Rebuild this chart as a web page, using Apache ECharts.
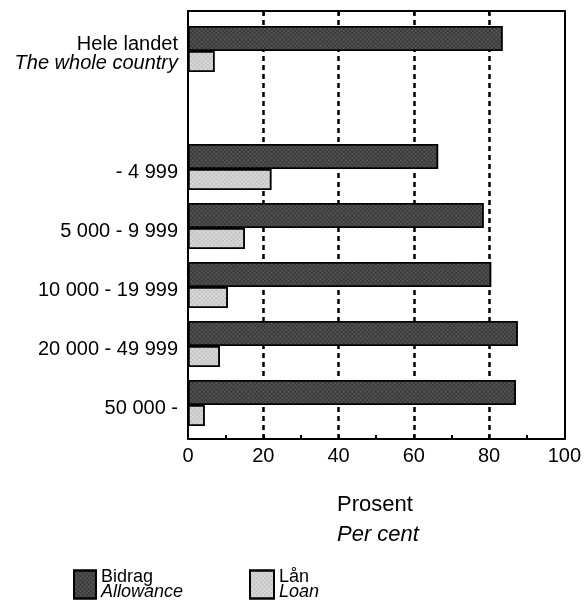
<!DOCTYPE html>
<html><head><meta charset="utf-8">
<script src="https://cdn.jsdelivr.net/npm/echarts@6/dist/echarts.min.js"></script>
<style>html,body{margin:0;padding:0;background:#fff}#c{width:584px;height:614px}</style>
</head><body><div id="c"></div>
<script>
const categories = ['Hele landet', '', '- 4 999', '5 000 - 9 999', '10 000 - 19 999', '20 000 - 49 999', '50 000 -'];
const bidrag = [83, null, 66, 78, 80, 87, 86.5];
const laan = [7, null, 22, 15, 10.5, 8.4, 4.4];
const xTicks = [0, 20, 40, 60, 80, 100];

const FONT = '"Liberation Sans", Arial, sans-serif';
const darkDecal = { symbol: 'rect', symbolSize: 0.6, color: 'rgba(255,255,255,0.45)', dashArrayX: [2, 1], dashArrayY: [2, 1], rotation: 0.785 };
const lightDecal = { symbol: 'rect', symbolSize: 0.6, color: 'rgba(0,0,0,0.35)', dashArrayX: [2, 1], dashArrayY: [2, 1], rotation: 0.785 };
const frameLine = { show: true, onZero: false, lineStyle: { color: '#000', width: 2 } };
const chart = echarts.init(document.getElementById('c'));
chart.setOption({
  animation: false,
  textStyle: { fontFamily: FONT, color: '#000' },
  grid: [
    { left: 188, right: 17, top: 11, height: 428, show: false },
    { left: 188, right: 17, top: 19.5, height: 413 }
  ],
  xAxis: [
    { gridIndex: 0, type: 'value', position: 'bottom', min: xTicks[0], max: xTicks[xTicks.length - 1], interval: 20,
      axisLine: frameLine,
      axisTick: { show: true, inside: true, length: 4, lineStyle: { color: '#000', width: 2 } },
      minorTick: { show: true, splitNumber: 2, length: 4, lineStyle: { color: '#000', width: 2 } },
      axisLabel: { fontSize: 20, color: '#000', margin: 7, fontFamily: FONT },
      splitLine: { show: true, showMinLine: false, showMaxLine: false, lineStyle: { color: '#000', width: 2.5, type: [5, 4] } } },
    { gridIndex: 0, type: 'value', position: 'top', min: 0, max: 100, interval: 20,
      axisLine: frameLine,
      axisTick: { show: true, inside: true, length: 4, lineStyle: { color: '#000', width: 2 } },
      axisLabel: { show: false }, splitLine: { show: false } },
    { gridIndex: 1, type: 'value', min: 0, max: 100, show: false }
  ],
  yAxis: [
    { gridIndex: 0, type: 'value', position: 'left', min: 0, max: 1,
      axisLine: frameLine,
      axisTick: { show: false }, axisLabel: { show: false }, splitLine: { show: false } },
    { gridIndex: 0, type: 'value', position: 'right', min: 0, max: 1,
      axisLine: frameLine,
      axisTick: { show: false }, axisLabel: { show: false }, splitLine: { show: false } },
    { gridIndex: 1, type: 'category', inverse: true, data: categories,
      axisLine: { show: false }, axisTick: { show: false },
      axisLabel: { margin: 10, fontSize: 20, color: '#000', fontFamily: FONT, padding: [10, 0, 0, 0],
        formatter: function (v) {
          if (v === 'Hele landet') return '{a|Hele landet}\n{b|The whole country}';
          return v;
        },
        rich: {
          a: { fontSize: 20, fontFamily: FONT, color: '#000', align: 'right', lineHeight: 19 },
          b: { fontSize: 20, fontFamily: FONT, fontStyle: 'italic', color: '#000', align: 'right', lineHeight: 19 }
        } } }
  ],
  legend: [
    { left: 68, top: 563, icon: 'rect', itemWidth: 22, itemHeight: 28, itemGap: 4, data: ['Bidrag'], selectedMode: false,
      formatter: () => '{a|Bidrag}\n{b|Allowance}',
      textStyle: { rich: { a: { fontSize: 18, fontFamily: FONT, lineHeight: 15, color: '#000' }, b: { fontSize: 18, fontFamily: FONT, fontStyle: 'italic', lineHeight: 15, color: '#000' } } } },
    { left: 244, top: 563, icon: 'rect', itemWidth: 24, itemHeight: 28, itemGap: 4, data: ['Lån'], selectedMode: false,
      formatter: () => '{a|Lån}\n{b|Loan}',
      textStyle: { rich: { a: { fontSize: 18, fontFamily: FONT, lineHeight: 15, color: '#000' }, b: { fontSize: 18, fontFamily: FONT, fontStyle: 'italic', lineHeight: 15, color: '#000' } } } }
  ],
  graphic: [
    { type: 'text', left: 337, top: 494, style: { text: 'Prosent', font: '22px ' + FONT, fill: '#000' } },
    { type: 'text', left: 337, top: 524, style: { text: 'Per cent', font: 'italic 22px ' + FONT, fill: '#000' } }
  ],
  series: [
    { name: 'Bidrag', type: 'bar', xAxisIndex: 2, yAxisIndex: 2, data: bidrag, barWidth: 25, barGap: '0%',
      itemStyle: { color: '#3a3a3a', borderColor: '#000', borderWidth: 1.5, decal: darkDecal } },
    { name: 'Lån', type: 'bar', xAxisIndex: 2, yAxisIndex: 2, data: laan, barWidth: 21, barGap: '0%',
      itemStyle: { color: '#d8d8d8', borderColor: '#000', borderWidth: 1.5, decal: lightDecal } }
  ]
});
</script></body></html>
